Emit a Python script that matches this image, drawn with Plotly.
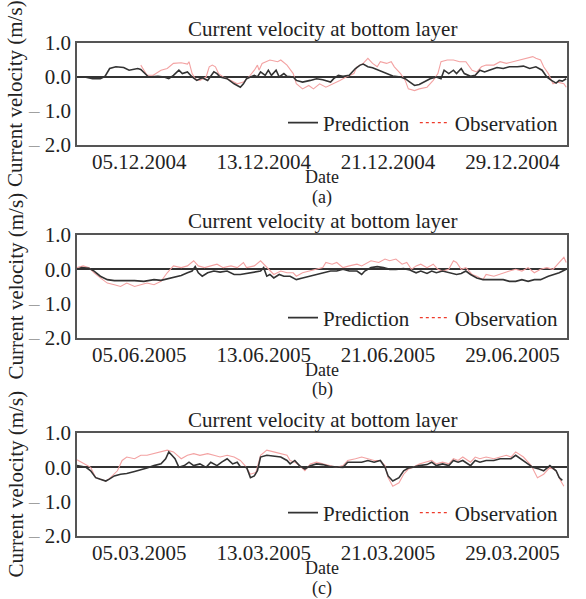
import plotly.graph_objects as go
import pandas as pd

FONT = "'Liberation Serif', 'Times New Roman', Times, 'DejaVu Serif', serif"
W, H = 586, 599

# ---------------- data ----------------
# (a) December 2004  (days since start)
a_start = "2004-12-01"
a_pred_day = [0.0, 0.5, 1.0, 1.5, 1.8, 2.1, 2.5, 3.0, 3.35, 3.9, 4.1, 4.4, 4.6, 5.2, 5.6, 5.9, 6.2, 6.55, 6.77,
              7.1, 7.4, 7.7, 8.05, 8.4, 8.8, 9.0, 9.2, 9.65, 10.1, 10.5, 10.7, 10.9, 11.4, 11.6, 11.8, 12.1,
              12.3, 12.5, 12.8, 13.0, 13.3, 13.5, 13.9, 14.1, 14.5, 15.0, 15.4, 15.8, 16.3, 16.5, 16.8, 17.1,
              17.5, 17.9, 18.2, 18.4, 18.7, 19.0, 19.4, 19.7, 20.0, 20.3, 20.8, 21.1, 21.4, 21.7, 22.0, 22.3,
              22.7, 23.1, 23.4, 23.6, 23.9, 24.2, 24.4, 24.7, 24.9, 25.3, 25.6, 25.9, 26.2, 26.5, 27.0, 27.4,
              27.8, 28.3, 28.7, 29.1, 29.5, 29.9, 30.2, 30.5, 30.8, 31.0, 31.2, 31.45]
a_pred_val = [0.0, 0.0, -0.05, -0.05, 0.02, 0.25, 0.30, 0.28, 0.20, 0.25, 0.22, 0.10, 0.0, 0.02, 0.0, -0.05, 0.05,
              0.20, 0.10, 0.15, 0.0, -0.10, -0.02, -0.10, 0.15, 0.10, 0.0, -0.05, -0.20, -0.30, -0.20, -0.05,
              0.05, 0.0, 0.15, 0.05, 0.20, 0.05, 0.20, 0.0, 0.10, 0.02, 0.0, -0.10, -0.15, -0.10, -0.05, -0.08,
              -0.15, -0.05, 0.05, 0.02, 0.05, 0.25, 0.35, 0.38, 0.30, 0.27, 0.20, 0.15, 0.08, 0.03, 0.0, -0.05,
              -0.15, -0.25, -0.22, -0.15, -0.05, 0.0, -0.05, 0.20, 0.10, 0.20, 0.10, 0.25, 0.10, 0.02, 0.05,
              0.20, 0.15, 0.20, 0.28, 0.25, 0.30, 0.30, 0.32, 0.25, 0.30, 0.20, 0.0, -0.10, -0.18, -0.10,
              -0.12, -0.05]
a_obs_day = [4.1, 4.5, 4.9, 5.4, 5.8, 6.2, 6.7, 7.1, 7.2, 7.4, 7.6, 7.9, 8.3, 8.5, 8.7, 8.9, 9.1, 9.4, 9.9, 10.3,
             10.7, 11.05, 11.4, 11.6, 11.7, 11.9, 12.4, 12.9, 13.1, 13.5, 13.9, 14.1, 14.5, 14.9, 15.2, 15.6,
             16.0, 16.5, 16.9, 17.3, 17.8, 18.0, 18.4, 18.7, 19.0, 19.3, 19.5, 19.9, 20.2, 20.4, 20.8, 21.1,
             21.3, 21.7, 22.0, 22.5, 22.9, 23.2, 23.4, 23.8, 24.2, 24.6, 25.0, 25.4, 25.7, 26.0, 26.3, 26.8,
             27.2, 27.6, 28.0, 28.5, 28.9, 29.3, 29.5, 29.8, 30.0, 30.3, 30.6, 30.9, 31.3, 31.45]
a_obs_val = [0.35, 0.05, 0.05, 0.20, 0.25, 0.40, 0.42, 0.38, 0.45, 0.10, -0.05, -0.10, 0.0, 0.30, 0.35, 0.30,
             0.10, 0.0, -0.10, -0.20, -0.15, 0.0, 0.20, 0.35, 0.20, 0.40, 0.50, 0.45, 0.50, 0.35, 0.10, -0.20,
             -0.35, -0.25, -0.35, -0.20, -0.30, -0.20, -0.10, 0.0, 0.10, 0.30, 0.40, 0.55, 0.40, 0.30, 0.45,
             0.40, 0.45, 0.30, 0.10, -0.10, -0.35, -0.40, -0.35, -0.30, -0.10, 0.10, 0.45, 0.50, 0.50, 0.45,
             0.45, 0.20, 0.15, 0.30, 0.35, 0.35, 0.45, 0.40, 0.45, 0.50, 0.55, 0.60, 0.55, 0.50, 0.30, 0.10,
             -0.20, -0.15, -0.20, -0.30]
a_tick_dates = ["2004-12-05", "2004-12-13", "2004-12-21", "2004-12-29"]
a_tick_text = ["05.12.2004", "13.12.2004", "21.12.2004", "29.12.2004"]

# (b) June 2005
b_start = "2005-06-01"
b_pred_day = [0.0, 0.3, 0.77, 1.1, 1.5, 1.95, 2.4, 3.0, 3.7, 4.3, 4.95, 5.4, 5.8, 6.2, 6.7, 7.1, 7.4, 7.6, 7.8,
              8.05, 8.4, 8.8, 9.2, 9.65, 9.9, 10.1, 10.5, 10.9, 11.4, 11.8, 12.0, 12.2, 12.4, 12.65, 13.0, 13.3,
              13.7, 14.1, 14.5, 15.0, 15.4, 15.8, 16.3, 16.7, 17.1, 17.5, 18.0, 18.3, 18.5, 18.9, 19.3, 19.7,
              20.1, 20.5, 21.0, 21.4, 21.8, 22.1, 22.5, 22.8, 23.1, 23.5, 24.0, 24.4, 24.7, 25.0, 25.3, 25.7,
              26.1, 26.5, 27.0, 27.4, 27.8, 28.2, 28.6, 29.0, 29.4, 29.8, 30.3, 30.7, 31.0, 31.45]
b_pred_val = [0.0, 0.05, 0.03, -0.05, -0.20, -0.30, -0.33, -0.32, -0.33, -0.35, -0.30, -0.32, -0.28, -0.25,
              -0.18, -0.10, -0.05, 0.08, -0.10, -0.20, -0.10, -0.05, -0.08, -0.05, -0.10, -0.15, -0.15, -0.12,
              -0.10, -0.05, 0.05, -0.20, -0.15, -0.25, -0.15, -0.20, -0.20, -0.30, -0.25, -0.20, -0.15, -0.12,
              -0.05, -0.05, 0.0, -0.05, -0.05, -0.15, -0.05, 0.05, 0.08, 0.05, 0.0, 0.0, 0.02, -0.02, -0.10,
              -0.05, -0.12, -0.05, -0.10, -0.05, -0.10, -0.15, -0.12, -0.05, -0.15, -0.25, -0.30, -0.30, -0.28,
              -0.30, -0.35, -0.35, -0.30, -0.35, -0.30, -0.30, -0.20, -0.15, -0.10, 0.0]
b_obs_day = [0.0, 0.4, 0.77, 1.1, 1.5, 1.95, 2.4, 2.8, 3.2, 3.7, 4.1, 4.5, 4.95, 5.4, 5.8, 6.0, 6.2, 6.7, 7.1,
             7.5, 7.8, 8.2, 8.6, 9.0, 9.4, 9.9, 10.3, 10.7, 10.9, 11.4, 11.8, 12.1, 12.4, 12.65, 13.1, 13.5,
             13.9, 14.1, 14.5, 15.0, 15.4, 15.8, 16.0, 16.4, 16.7, 17.1, 17.5, 18.0, 18.3, 18.5, 18.9, 19.4,
             19.8, 20.1, 20.5, 20.9, 21.2, 21.5, 21.8, 22.1, 22.5, 22.9, 23.2, 23.5, 23.9, 24.2, 24.4, 24.7,
             25.0, 25.4, 25.7, 26.1, 26.3, 26.8, 27.4, 27.8, 28.2, 28.6, 29.0, 29.4, 29.8, 30.2, 30.6, 31.0,
             31.3, 31.45]
b_obs_val = [0.05, 0.10, 0.05, -0.10, -0.25, -0.40, -0.45, -0.50, -0.40, -0.50, -0.45, -0.40, -0.45, -0.35,
             -0.10, 0.0, 0.10, 0.05, 0.10, 0.25, 0.10, 0.05, 0.10, 0.15, 0.05, 0.10, 0.05, 0.20, 0.05, 0.10,
             0.25, 0.10, -0.05, -0.15, -0.05, -0.10, -0.10, -0.20, -0.10, -0.05, 0.0, 0.05, 0.20, 0.15, 0.20,
             0.05, 0.10, 0.15, 0.10, 0.15, 0.25, 0.20, 0.30, 0.25, 0.30, 0.15, 0.20, 0.0, 0.10, 0.15, 0.05,
             0.15, 0.0, -0.05, 0.0, 0.25, 0.20, 0.0, 0.05, -0.15, -0.20, -0.30, -0.15, -0.20, -0.10, -0.05,
             0.0, -0.05, 0.05, -0.10, 0.0, 0.05, 0.0, 0.20, 0.35, 0.20]
b_tick_dates = ["2005-06-05", "2005-06-13", "2005-06-21", "2005-06-29"]
b_tick_text = ["05.06.2005", "13.06.2005", "21.06.2005", "29.06.2005"]

# (c) March 2005
c_start = "2005-03-01"
c_pred_day = [0.0, 0.58, 0.88, 1.2, 1.5, 1.85, 2.05, 2.4, 2.8, 3.2, 3.7, 4.1, 4.5, 4.95, 5.4, 5.7, 5.9, 6.1,
              6.3, 6.55, 6.9, 7.2, 7.5, 7.9, 8.3, 8.6, 9.0, 9.3, 9.65, 10.0, 10.3, 10.5, 10.9, 11.15, 11.4,
              11.6, 11.8, 12.2, 12.65, 13.1, 13.5, 13.7, 14.0, 14.3, 14.65, 15.0, 15.4, 15.8, 16.3, 16.7, 17.1,
              17.4, 17.9, 18.3, 18.7, 19.1, 19.5, 19.8, 20.0, 20.3, 20.7, 21.0, 21.3, 21.6, 22.0, 22.5, 22.8,
              23.1, 23.5, 23.9, 24.2, 24.5, 24.8, 25.3, 25.6, 25.9, 26.3, 26.8, 27.2, 27.6, 27.9, 28.2, 28.7,
              29.3, 29.7, 30.0, 30.4, 30.8, 31.0, 31.2]
c_pred_val = [0.05, 0.0, -0.10, -0.30, -0.35, -0.40, -0.35, -0.25, -0.20, -0.18, -0.12, -0.08, -0.02, 0.05,
              0.10, 0.25, 0.45, 0.35, 0.25, 0.0, 0.05, 0.15, 0.05, 0.10, 0.0, 0.15, 0.05, 0.15, 0.25, 0.10,
              0.15, 0.02, 0.0, -0.30, -0.25, -0.10, 0.30, 0.35, 0.32, 0.30, 0.20, 0.10, 0.20, 0.05, -0.05, 0.05,
              0.10, 0.08, 0.02, 0.0, 0.0, 0.15, 0.15, 0.15, 0.20, 0.15, 0.20, 0.0, -0.25, -0.40, -0.30, -0.10,
              -0.02, 0.0, 0.05, 0.08, 0.15, 0.05, 0.10, 0.05, 0.20, 0.15, 0.20, 0.05, 0.20, 0.15, 0.20, 0.20,
              0.25, 0.25, 0.25, 0.35, 0.20, 0.0, -0.05, -0.10, 0.05, -0.10, -0.30, -0.38]
c_obs_day = [0.0, 0.5, 0.88, 1.2, 1.5, 1.85, 2.15, 2.6, 2.9, 3.2, 3.7, 4.1, 4.5, 4.95, 5.4, 5.8, 6.2, 6.7, 7.1,
             7.5, 7.9, 8.4, 8.8, 9.2, 9.65, 10.1, 10.5, 10.8, 11.15, 11.5, 11.8, 12.2, 12.65, 13.1, 13.5, 13.7,
             14.0, 14.3, 14.65, 15.0, 15.4, 15.8, 16.3, 16.7, 17.1, 17.4, 17.9, 18.3, 18.7, 19.1, 19.5, 19.8,
             20.0, 20.3, 20.7, 21.0, 21.3, 21.6, 22.0, 22.5, 22.8, 23.1, 23.5, 23.9, 24.2, 24.5, 24.8, 25.3,
             25.6, 25.9, 26.3, 26.8, 27.2, 27.6, 27.9, 28.2, 28.7, 29.2, 29.6, 30.0, 30.4, 30.8, 31.1, 31.3]
c_obs_val = [0.22, 0.10, 0.0, -0.30, -0.35, -0.40, -0.30, -0.10, 0.20, 0.30, 0.25, 0.35, 0.35, 0.40, 0.45, 0.50,
             0.45, 0.25, 0.35, 0.40, 0.35, 0.40, 0.35, 0.30, 0.35, 0.30, 0.20, 0.05, -0.20, -0.15, 0.35, 0.50,
             0.45, 0.40, 0.35, 0.20, 0.15, 0.05, -0.10, 0.10, 0.15, 0.10, 0.05, 0.0, 0.05, 0.20, 0.25, 0.30,
             0.25, 0.20, 0.20, 0.05, -0.30, -0.55, -0.45, -0.20, -0.05, 0.0, 0.10, 0.15, 0.20, 0.10, 0.15,
             0.10, 0.25, 0.20, 0.30, 0.15, 0.30, 0.25, 0.30, 0.25, 0.30, 0.35, 0.30, 0.45, 0.30, 0.05, -0.30,
             -0.20, 0.0, -0.10, -0.40, -0.55]
c_tick_dates = ["2005-03-05", "2005-03-13", "2005-03-21", "2005-03-29"]
c_tick_text = ["05.03.2005", "13.03.2005", "21.03.2005", "29.03.2005"]

y_tick_vals = [1, 0, -1, -2]
y_tick_text = ["1.0", "0.0", "<span style='color:#a0a0a0'>\u2013</span> 1.0",
               "<span style='color:#a0a0a0'>\u2013</span> 2.0"]

panel_labels = ["(a)", "(b)", "(c)"]
title_text = "Current velocity at bottom layer"
ytitle_text = "Current velocity (m/s)"
xtitle_text = "Date"

# ---------------- layout geometry (pixels) ----------------
PL, PR = 77, 567
tops = [43, 235, 433]
bottoms = [145, 338, 536]
title_y = [29, 221, 420]
date_y = [177, 370, 568]
label_y = [197, 390, 588]
legend_y = [123, 318, 513]
SPAN_DAYS = 31.5

def px(x):
    return x / W

def py(y):
    return 1 - y / H

PRED_COLOR = "#333333"
OBS_COLOR = "#f3a2a2"
OBS_LEG_COLOR = "#ee3b2b"
TXT = "#222222"
FS = 21
FS_SMALL = 18

panels = [
    (a_start, a_pred_day, a_pred_val, a_obs_day, a_obs_val, a_tick_dates, a_tick_text),
    (b_start, b_pred_day, b_pred_val, b_obs_day, b_obs_val, b_tick_dates, b_tick_text),
    (c_start, c_pred_day, c_pred_val, c_obs_day, c_obs_val, c_tick_dates, c_tick_text),
]

fig = go.Figure()
annotations = []
layout = {}

for i, (start, pd_day, pd_val, od_day, od_val, tdates, ttext) in enumerate(panels):
    n = i + 1
    xa = "x" if n == 1 else f"x{n}"
    ya = "y" if n == 1 else f"y{n}"
    leg = "legend" if n == 1 else f"legend{n}"
    t0 = pd.Timestamp(start)
    xp = t0 + pd.to_timedelta(pd_day, unit="D")
    xo = t0 + pd.to_timedelta(od_day, unit="D")

    fig.add_trace(go.Scatter(x=xo, y=od_val, mode="lines", xaxis=xa, yaxis=ya,
                             line=dict(color=OBS_COLOR, width=1.1), showlegend=False,
                             name="Observation", legend=leg))
    fig.add_trace(go.Scatter(x=xp, y=pd_val, mode="lines", xaxis=xa, yaxis=ya,
                             line=dict(color=PRED_COLOR, width=1.6), name="Prediction",
                             legend=leg, showlegend=True))
    fig.add_trace(go.Scatter(x=[None], y=[None], mode="lines", xaxis=xa, yaxis=ya,
                             line=dict(color=OBS_LEG_COLOR, width=1.3, dash="dot"),
                             name="Observation", legend=leg, showlegend=True))

    xkey = "xaxis" if n == 1 else f"xaxis{n}"
    ykey = "yaxis" if n == 1 else f"yaxis{n}"
    layout[xkey] = dict(
        domain=[px(PL), px(PR)], anchor=ya, type="date",
        range=[t0, t0 + pd.Timedelta(days=SPAN_DAYS)],
        tickvals=pd.to_datetime(tdates), ticktext=ttext,
        showgrid=False, zeroline=False, ticks="", ticklabelstandoff=-3,
        showline=True, mirror=True, linecolor="#555555", linewidth=1.5,
        tickfont=dict(family=FONT, size=FS, color=TXT),
        automargin=False, fixedrange=True,
    )
    layout[ykey] = dict(
        domain=[py(bottoms[i]), py(tops[i])], anchor=xa,
        range=[-2, 1], tickvals=y_tick_vals, ticktext=y_tick_text,
        showgrid=False, zeroline=True, zerolinecolor="#333333", zerolinewidth=1.6,
        ticks="", showline=True, mirror=True, linecolor="#555555", linewidth=1.5,
        tickfont=dict(family=FONT, size=FS, color=TXT),
        automargin=False, fixedrange=True,
    )
    layout[leg] = dict(
        orientation="h", x=px(PR - 4), xanchor="right", y=py(legend_y[i]), yanchor="middle",
        bgcolor="rgba(0,0,0,0)", borderwidth=0,
        font=dict(family=FONT, size=FS, color=TXT),
        itemwidth=30, tracegroupgap=0, traceorder="normal",
    )

    cx = px((PL + PR) / 2)
    for txt, yy, fs in ((title_text, title_y[i], FS), (xtitle_text, date_y[i], FS_SMALL),
                        (panel_labels[i], label_y[i], FS_SMALL)):
        annotations.append(dict(text=txt, x=cx, y=py(yy), xref="paper", yref="paper",
                                xanchor="center", yanchor="middle", showarrow=False,
                                font=dict(family=FONT, size=fs, color=TXT)))
    annotations.append(dict(text=ytitle_text, x=px(15), y=py((tops[i] + bottoms[i]) / 2),
                            xref="paper", yref="paper", xanchor="center", yanchor="middle",
                            textangle=-90, showarrow=False,
                            font=dict(family=FONT, size=FS, color=TXT)))

fig.update_layout(
    width=W, height=H, margin=dict(l=0, r=0, t=0, b=0),
    paper_bgcolor="white", plot_bgcolor="white",
    font=dict(family=FONT),
    annotations=annotations, **layout,
)

fig.write_html("out.html", config={"displayModeBar": False})
